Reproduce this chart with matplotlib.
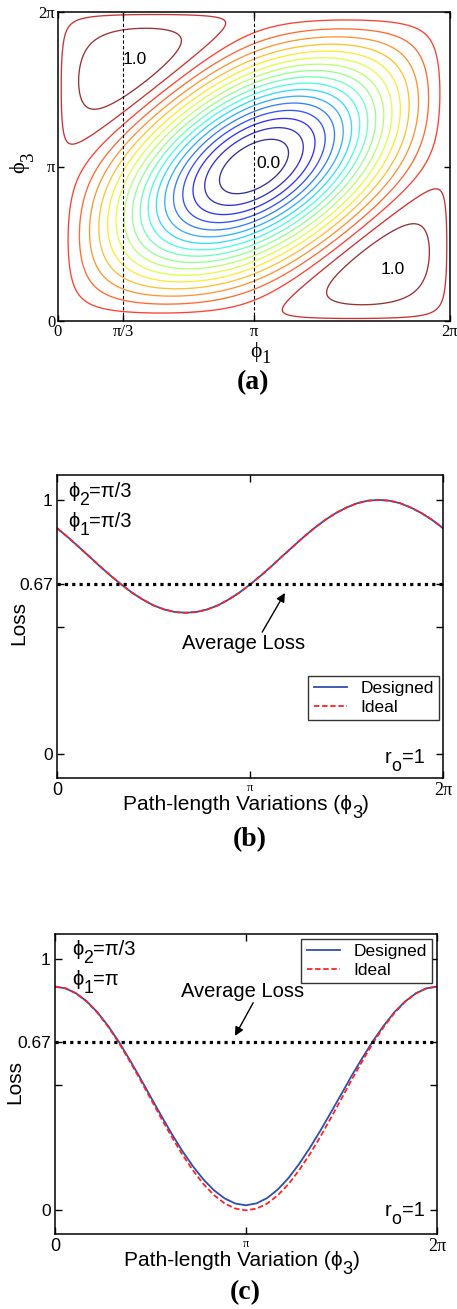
import numpy as np
import matplotlib
matplotlib.use("Agg")
import matplotlib.pyplot as plt
from matplotlib.colors import ListedColormap

plt.rcParams["axes.linewidth"] = 1.1

SANS = ["Liberation Sans", "DejaVu Sans"]
SERIF = ["Liberation Serif", "DejaVu Serif"]

# ---------------------------------------------------------------- data
PHI2 = np.pi / 3          # fixed phase of arm 2
AVG_LOSS = 0.67

phase_deg = np.arange(0, 361, 10)
phase = np.deg2rad(phase_deg)

designed_b = [0.889, 0.854, 0.816, 0.778, 0.739, 0.702, 0.667, 0.635, 0.608,
              0.585, 0.569, 0.559, 0.556, 0.559, 0.569, 0.585, 0.608, 0.635,
              0.667, 0.702, 0.739, 0.778, 0.816, 0.854, 0.889, 0.921, 0.948,
              0.970, 0.987, 0.997, 1.000, 0.997, 0.987, 0.970, 0.948, 0.921,
              0.889]
ideal_b = [0.889, 0.854, 0.816, 0.778, 0.739, 0.702, 0.667, 0.635, 0.608,
           0.585, 0.569, 0.559, 0.556, 0.559, 0.569, 0.585, 0.608, 0.635,
           0.667, 0.702, 0.739, 0.778, 0.816, 0.854, 0.889, 0.921, 0.948,
           0.970, 0.987, 0.997, 1.000, 0.997, 0.987, 0.970, 0.948, 0.921,
           0.889]

designed_c = [0.889, 0.882, 0.862, 0.830, 0.787, 0.733, 0.671, 0.601, 0.528,
              0.452, 0.377, 0.304, 0.236, 0.175, 0.122, 0.079, 0.047, 0.027,
              0.020, 0.028, 0.049, 0.083, 0.128, 0.184, 0.247, 0.316, 0.389,
              0.463, 0.538, 0.608, 0.675, 0.735, 0.788, 0.830, 0.862, 0.882,
              0.889]
ideal_c = [0.889, 0.882, 0.862, 0.829, 0.785, 0.730, 0.667, 0.596, 0.522,
           0.444, 0.367, 0.292, 0.222, 0.159, 0.104, 0.060, 0.027, 0.007,
           0.000, 0.007, 0.027, 0.060, 0.104, 0.159, 0.222, 0.292, 0.367,
           0.444, 0.522, 0.596, 0.667, 0.730, 0.785, 0.829, 0.862, 0.882,
           0.889]

contour_levels = np.arange(0.05, 0.951, 0.05)


def interferometer_loss(p1, p2, p3):
    """Loss of a three-arm combiner with equal arm amplitudes."""
    field = (np.exp(1j * p1) + np.exp(1j * (p2 + 2 * np.pi / 3)) + np.exp(1j * p3)) / 3
    return 1 - np.abs(field) ** 2


# ---------------------------------------------------------------- figure
W, H = 457, 1309
fig = plt.figure(figsize=(W / 100, H / 100), dpi=100)
renderer = fig.canvas.get_renderer()


def box(l, t, r, b):
    return [l / W, 1 - b / H, (r - l) / W, (b - t) / H]


def ftext(x, y, s, **kw):
    return fig.text(x / W, 1 - y / H, s, **kw)


def rich(x, y, parts, size, family, ha="left", rotation=0):
    """Text made of pieces (string, scale, drop in em) set on one baseline.
    (x, y) is the anchor on the baseline, in pixels from the top-left."""
    objs, widths = [], []
    for s, scale, _ in parts:
        t = fig.text(0, 0, s, family=family, fontsize=size * scale,
                     ha="left", va="baseline")
        widths.append(t.get_window_extent(renderer).width)
        objs.append(t)
    total = sum(widths)
    start = {"left": 0, "center": -total / 2, "right": -total}[ha]
    em = size * 100 / 72
    pos = start
    for t, w, (_, _, drop) in zip(objs, widths, parts):
        d = drop * em
        if rotation == 90:
            px, py = x + d, y - pos
        else:
            px, py = x + pos, y + d
        t.set_position((px / W, 1 - py / H))
        t.set_rotation(rotation)
        t.set_rotation_mode("anchor")
        pos += w
    return objs


TWO_PI = 2 * np.pi

# ---------------- (a) contour map
ax = fig.add_axes(box(58, 12, 450, 321))
g = np.linspace(0, TWO_PI, 400)
P1, P3 = np.meshgrid(g, g)
L = interferometer_loss(P1, PHI2, P3)
base = plt.get_cmap("jet")(np.linspace(0, 1, 256))
base[:, :3] = base[:, :3] * 0.8 + 0.2
soft_jet = ListedColormap(base)
ax.contour(P1, P3, L, levels=contour_levels, cmap=soft_jet,
           vmin=contour_levels[0], vmax=contour_levels[-1], linewidths=0.95)
for xv in (np.pi / 3, np.pi):
    ax.axvline(xv, color="k", lw=0.8, ls=(0, (3, 2)))
ax.set_xlim(0, TWO_PI)
ax.set_ylim(0, TWO_PI)
ax.set_xticks([0, np.pi / 3, np.pi, TWO_PI])
ax.set_xticklabels(["0", "π/3", "π", "2π"])
ax.set_yticks([0, np.pi, TWO_PI])
ax.set_yticklabels(["0", "π", "2π"])
ax.tick_params(direction="in", length=4, width=1, top=True, right=True, pad=2)
for t in ax.get_xticklabels() + ax.get_yticklabels():
    t.set_fontfamily(SERIF)
    t.set_fontsize(12)
ax.text(1.23, 5.31, "1.0", family=SANS, fontsize=12.5, ha="center", va="center")
ax.text(5.37, 1.04, "1.0", family=SANS, fontsize=12.5, ha="center", va="center")
ax.text(3.37, 3.21, "0.0", family=SANS, fontsize=12.5, ha="center", va="center")
rich(250, 357, [("ϕ", 1, 0), ("1", 0.85, 0.3)], 15.5, SERIF)
rich(24, 173, [("ϕ", 1, 0), ("3", 0.85, 0.4)], 16, SERIF, rotation=90)
ftext(253, 383, "(a)", family=SERIF, fontsize=20, weight="bold", ha="center", va="center")


# ---------------- (b), (c) loss curves
def loss_panel(rect, designed, ideal, phi1_value, xword, avg_text, avg_head,
               legend_corner, caption, caption_xy, phi_xy, ro_xy, loss_xy,
               xlabel_xy):
    ax = fig.add_axes(box(*rect))
    ax.plot(phase, designed, color="#2e4fb0", lw=1.3, label="Designed")
    ax.plot(phase, ideal, color="#ff2424", lw=1.3, ls=(0, (3, 1.5)), label="Ideal")
    ax.axhline(AVG_LOSS, color="k", lw=2.3, ls=(0, (1, 1.3)))
    ax.set_xlim(0, TWO_PI)
    ax.set_ylim(-0.094, 1.098)
    ax.set_xticks([0, np.pi, TWO_PI])
    ax.set_xticklabels(["0", "π", "2π"])
    ax.set_yticks([0, 0.5, AVG_LOSS, 1])
    ax.set_yticklabels(["0", "", "0.67", "1"])
    ax.tick_params(direction="in", length=5, width=1, top=True, right=True, pad=3)
    for t in ax.get_yticklabels():
        t.set_fontfamily(SANS)
        t.set_fontsize(12.5)
    xl = ax.get_xticklabels()
    xl[0].set_fontfamily(SANS); xl[0].set_fontsize(13)
    xl[1].set_fontfamily(SERIF); xl[1].set_fontsize(9)
    xl[2].set_fontfamily(SERIF); xl[2].set_fontsize(13)
    ftext(loss_xy[0], loss_xy[1], "Loss", family=SANS, fontsize=15,
          rotation=90, ha="center", va="center")
    rich(xlabel_xy[0], xlabel_xy[1],
         [(f"Path-length {xword} (ϕ", 1, 0), ("3", 0.88, 0.38), (")", 1, 0)],
         15, SANS, ha="center")
    ax.annotate("", xy=avg_head[0], xytext=avg_head[1],
                arrowprops=dict(arrowstyle="-|>", color="k", lw=1.0,
                                mutation_scale=13, shrinkA=0, shrinkB=0))
    ax.text(avg_text[0], avg_text[1], "Average Loss", family=SANS, fontsize=14.5,
            ha="center", va="center")
    leg = ax.legend(loc="upper right", bbox_to_anchor=(legend_corner[0] / W,
                                                       1 - legend_corner[1] / H),
                    bbox_transform=fig.transFigure, borderaxespad=0,
                    prop=dict(family=SANS, size=12.5), fancybox=False,
                    framealpha=1, edgecolor="#333333", handlelength=1.9,
                    handletextpad=0.8, labelspacing=0.2, borderpad=0.3)
    leg.get_frame().set_linewidth(1.0)
    rich(phi_xy[0], phi_xy[1], [("ϕ", 1, 0), ("2", 0.88, 0.38), ("=π/3", 1, 0)],
         14.5, SANS)
    rich(phi_xy[0], phi_xy[1] + 30, [("ϕ", 1, 0), ("1", 0.88, 0.38),
                                     ("=" + phi1_value, 1, 0)], 14.5, SANS)
    rich(ro_xy[0], ro_xy[1], [("r", 1, 0), ("o", 0.88, 0.38), ("=1", 1, 0)],
         14.5, SANS)
    ftext(caption_xy[0], caption_xy[1], caption, family=SERIF, fontsize=20,
          weight="bold", ha="center", va="center")


loss_panel((57, 475, 443, 778), designed_b, ideal_b, "π/3", "Variations",
           (3.03, 0.437), ((3.71, 0.634), (3.34, 0.48)),
           (439, 676), "(b)", (250, 840), (68, 497), (385, 763), (19, 623),
           (246, 810))

loss_panel((55, 934, 437, 1234), designed_c, ideal_c, "π", "Variation",
           (3.08, 0.868), ((2.96, 0.693), (3.26, 0.825)),
           (432, 939), "(c)", (245, 1293), (72, 955), (385, 1216), (15, 1082),
           (242, 1266))

fig.savefig("out.png", dpi=100)
